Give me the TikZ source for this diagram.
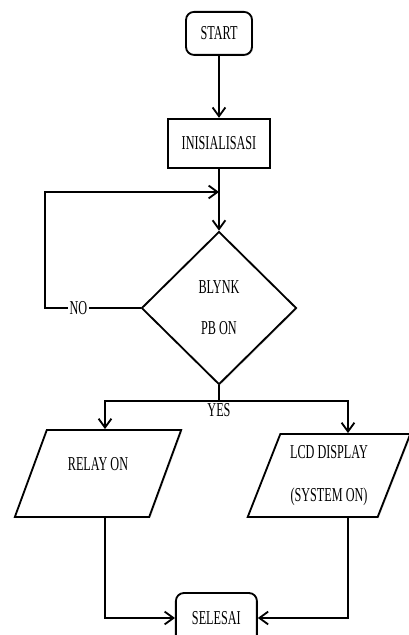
\documentclass[tikz,border=0pt]{standalone}
\usepackage{fontspec}
\setmainfont{Liberation Serif}[FakeStretch = 0.62]
\usetikzlibrary{positioning, arrows.meta, shapes.geometric, shadows}
\tikzset{
  > = {Straight Barb[length = 2.2mm, width = 3.2mm]},
  every node/.style = {font = \fontsize{14}{15}\selectfont},
  base/.style = {draw, line width = 1.3pt, fill = white, align = center, inner sep = 2pt,
    drop shadow = {shadow xshift = 0.8pt, shadow yshift = -0.8pt, opacity = 0.25}},
  terminal/.style = {base, rounded corners = 2mm,
    minimum width = 1.65cm, minimum height = 1.075cm},
  process/.style = {base, minimum width = 2.55cm, minimum height = 1.225cm},
  decision/.style = {base, diamond, inner sep = 0pt,
    minimum width = 3.875cm, minimum height = 3.825cm},
  io/.style = {base, trapezium, trapezium stretches = true},
  flow/.style = {->, line width = 1.3pt},
  link/.style = {line width = 1.3pt},
  tag/.style = {fill = white, inner sep = 1pt}
}
\begin{document}
\begin{tikzpicture}

\useasboundingbox (0,0) rectangle (10.225,15.875);

\node [terminal] (start) at (5.475,15.04) {START};
\node [process] (init) [below = 1.55cm of start] {INISIALISASI};
\node [decision] (dec) [below = 1.55cm of init] {BLYNK\\[0.5cm]PB ON};

\node [io, trapezium left angle = 62, trapezium right angle = 118,
  minimum width = 4.175cm, minimum height = 2.175cm] (relay) at (2.45,4.0375)
  {\raisebox{0.5cm}{RELAY ON}};
\node [io, trapezium left angle = 67, trapezium right angle = 113,
  minimum width = 4.1cm, minimum height = 2.075cm] (lcd) at (8.225,3.9875)
  {LCD DISPLAY\\[0.55cm](SYSTEM ON)};

\node [terminal, minimum width = 2.025cm, minimum height = 1.25cm] (stop) at (5.41,0.425) {SELESAI};

\coordinate (loop) at (1.125,11.075);
\coordinate (yesL) at (2.625,5.85);
\coordinate (yesR) at (8.7,5.85);

\draw [flow] (start) -- (init);
\draw [flow] (init) -- (dec);

\draw [flow] (dec.west) -- node [tag, pos = 0.65] {NO} (dec.west -| loop)
  -- (loop) -- (loop -| dec.north);

\draw [link] (dec.south) -- (dec.south |- yesL) coordinate (split)
  node [below, inner sep = 1pt] {YES};
\draw [flow] (split) -| (yesL |- relay.north);
\draw [flow] (split) -| (yesR |- lcd.north);

\draw [flow] (yesL |- relay.south) |- (stop.west);
\draw [flow] (yesR |- lcd.south) |- (stop.east);

\end{tikzpicture}
\end{document}
